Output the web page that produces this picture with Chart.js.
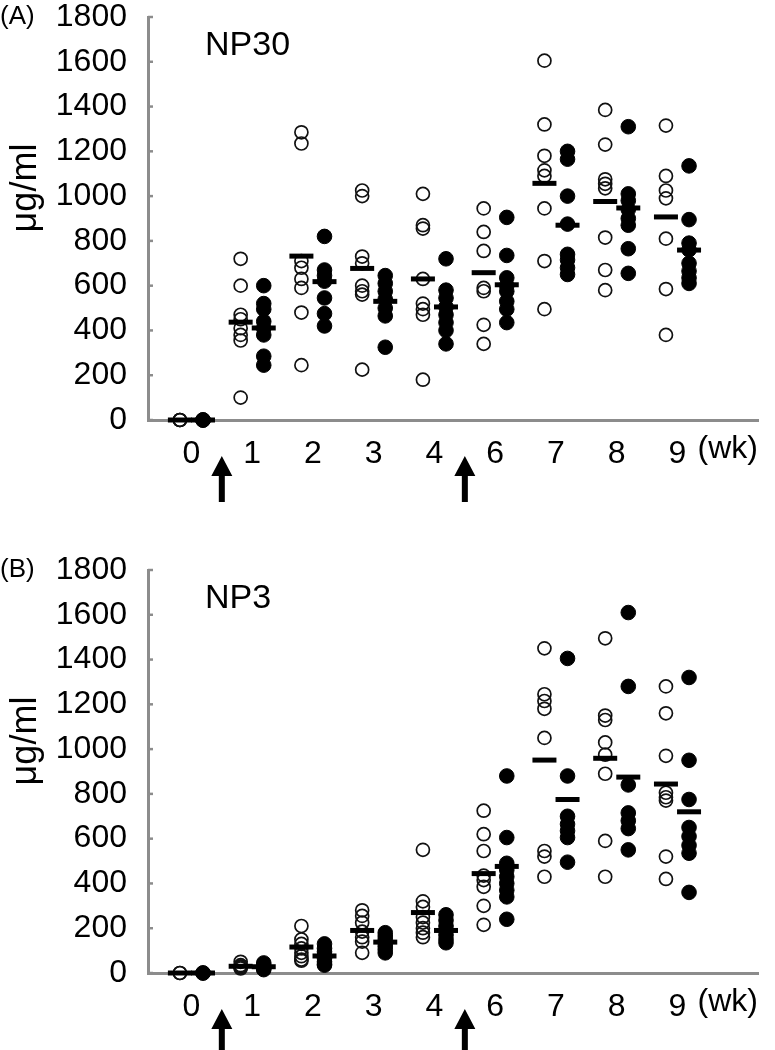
<!DOCTYPE html>
<html>
<head>
<meta charset="utf-8">
<title>NP30 / NP3 antibody titres</title>
<script src="https://cdn.jsdelivr.net/npm/chart.js"></script>
<style>
body { margin: 0; background: #fff; }
#wrap { position: relative; width: 775px; height: 1050px; overflow: hidden; }
canvas { position: absolute; left: 0; }
</style>
</head>
<body>
<div id="wrap">
  <canvas id="chartA" width="775" height="553" style="top:0"></canvas>
  <canvas id="chartB" width="775" height="497" style="top:553px"></canvas>
</div>
<script>
// x categories (weeks) and y tick labels
var weeks = ['0', '1', '2', '3', '4', '6', '7', '8', '9'];
var yTicks = [0, 200, 400, 600, 800, 1000, 1200, 1400, 1600, 1800];
// immunisation arrows sit between these category indexes
var arrowsAt = [0.5, 4.5];

// (A) NP30, values in ug/ml, one list per week
var np30Open = [
  [0, 0, 0],
  [720, 600, 470, 450, 410, 380, 355, 100],
  [1285, 1235, 710, 680, 630, 590, 480, 245],
  [1025, 1000, 730, 700, 600, 575, 560, 225],
  [1010, 870, 855, 630, 520, 495, 470, 180],
  [945, 840, 755, 590, 575, 425, 340],
  [1605, 1320, 1180, 1115, 1090, 945, 710, 495],
  [1385, 1230, 1075, 1055, 1035, 815, 670, 580],
  [1315, 1090, 1025, 990, 810, 585, 380]
];
var np30OpenMean = [0, 437, 732, 677, 630, 658, 1057, 976, 907];
var np30Filled = [
  [0, 0, 0],
  [600, 520, 495, 440, 410, 380, 285, 245],
  [820, 670, 645, 620, 545, 475, 420],
  [645, 610, 575, 540, 500, 465, 325],
  [720, 580, 545, 505, 470, 435, 400, 340],
  [905, 735, 635, 600, 575, 530, 495, 435],
  [1200, 1165, 1000, 875, 740, 715, 680, 650],
  [1310, 1010, 980, 940, 900, 870, 765, 655],
  [1135, 895, 790, 760, 700, 665, 635, 610]
];
var np30FilledMean = [0, 411, 618, 530, 505, 604, 870, 947, 759];

// (B) NP3
var np3Open = [
  [0, 0],
  [50, 35, 30, 25, 20],
  [210, 150, 130, 110, 90, 75, 60, 55],
  [280, 255, 225, 185, 160, 140, 90],
  [550, 320, 295, 250, 225, 200, 180, 160],
  [725, 620, 545, 435, 415, 385, 300, 215],
  [1450, 1245, 1215, 1180, 1050, 545, 520, 430],
  [1495, 1150, 1130, 1030, 975, 890, 590, 430],
  [1280, 1160, 970, 805, 785, 770, 520, 420]
];
var np3OpenMean = [0, 30, 116, 190, 270, 444, 951, 959, 844];
var np3Filled = [
  [0, 0],
  [45, 35, 25, 20, 15],
  [130, 110, 95, 80, 65, 50, 40, 35],
  [180, 165, 150, 135, 120, 105, 90],
  [260, 235, 210, 190, 170, 150, 135],
  [880, 605, 490, 460, 430, 400, 370, 340, 240],
  [1405, 880, 700, 665, 635, 605, 495],
  [1610, 1280, 840, 715, 680, 645, 550],
  [1320, 950, 775, 650, 610, 570, 535, 360]
];
var np3FilledMean = [0, 28, 76, 138, 190, 476, 775, 875, 720];

var FONT = "'Liberation Sans', Arial, sans-serif";
var GREY = '#8c8c8c';
var side = 0.19; // open column left of the week, filled column right of it

function pts(groups, dx) {
  var out = [];
  groups.forEach(function(vals, i) {
    vals.forEach(function(v) { out.push({x: i + dx, y: v}); });
  });
  return out;
}
function meanPts(means, dx) {
  return means.map(function(v, i) { return {x: i + dx, y: v}; });
}

var decor = {
  id: 'decor',
  afterDraw: function(chart) {
    var o = chart.options.plugins.decor;
    var ctx = chart.ctx, xs = chart.scales.x, ys = chart.scales.y, area = chart.chartArea;
    ctx.save();
    // small inward ticks on the y axis
    ctx.strokeStyle = GREY;
    ctx.lineWidth = 2.5;
    yTicks.forEach(function(t) {
      var py = ys.getPixelForValue(t);
      ctx.beginPath();
      ctx.moveTo(area.left, py);
      ctx.lineTo(area.left + 5, py);
      ctx.stroke();
    });
    ctx.fillStyle = '#000';
    ctx.textBaseline = 'middle';
    ctx.textAlign = 'left';
    ctx.font = '26px ' + FONT;
    ctx.fillText(o.letter, 0, 17);
    ctx.font = '34px ' + FONT;
    ctx.fillText(o.name, 205, 46);
    ctx.font = '32px ' + FONT;
    ctx.fillText('(wk)', xs.getPixelForValue(8) + 20, area.bottom + 29);
    // axis title
    ctx.save();
    ctx.translate(26, 188);
    ctx.rotate(-Math.PI / 2);
    ctx.textAlign = 'center';
    ctx.font = '36px ' + FONT;
    ctx.fillText('\u03bcg/ml', 0, 0);
    ctx.restore();
    // arrows under the x axis
    arrowsAt.forEach(function(a) {
      var px = xs.getPixelForValue(a);
      var top = area.bottom + 36, bot = area.bottom + 82;
      ctx.beginPath();
      ctx.moveTo(px, top);
      ctx.lineTo(px + 10.5, top + 20);
      ctx.lineTo(px + 3, top + 20);
      ctx.lineTo(px + 3, bot);
      ctx.lineTo(px - 3, bot);
      ctx.lineTo(px - 3, top + 20);
      ctx.lineTo(px - 10.5, top + 20);
      ctx.closePath();
      ctx.fill();
    });
    ctx.restore();
  }
};

function makeChart(id, h, letter, name, open, openMean, filled, filledMean) {
  return new Chart(document.getElementById(id), {
    type: 'scatter',
    data: {
      datasets: [
        { label: 'open mean', data: meanPts(openMean, -side), pointStyle: 'line', pointRadius: 12,
          pointBorderWidth: 5, pointBorderColor: '#000', order: 0, clip: false },
        { label: 'filled mean', data: meanPts(filledMean, side), pointStyle: 'line', pointRadius: 12,
          pointBorderWidth: 5, pointBorderColor: '#000', order: 0, clip: false },
        { label: 'open', data: pts(open, -side), pointStyle: 'circle', pointRadius: 6.5,
          pointBorderWidth: 1.7, pointBorderColor: '#111', pointBackgroundColor: 'rgba(255,255,255,0)', order: 1, clip: false },
        { label: 'filled', data: pts(filled, side), pointStyle: 'circle', pointRadius: 7.3,
          pointBorderWidth: 1, pointBorderColor: '#000', pointBackgroundColor: '#000', order: 1, clip: false }
      ]
    },
    options: {
      responsive: false,
      animation: false,
      events: [],
      layout: { padding: { left: 0, right: 2, top: 14, bottom: h - 420 - 60 } },
      plugins: {
        legend: { display: false },
        tooltip: { enabled: false },
        decor: { letter: letter, name: name }
      },
      scales: {
        x: {
          type: 'linear', min: -0.715, max: 9.325,
          grid: { display: false },
          border: { display: true, color: GREY, width: 3 },
          afterBuildTicks: function(s) { s.ticks = weeks.map(function(w, i) { return {value: i}; }); },
          ticks: { callback: function(v) { return weeks[v]; }, font: { size: 32, family: FONT }, color: '#000',
                   padding: 7, maxRotation: 0, autoSkip: false },
          afterFit: function(s) { s.height = 60; s.paddingLeft = 0; s.paddingRight = 0; }
        },
        y: {
          min: 0, max: 1800,
          grid: { display: false },
          border: { display: true, color: GREY, width: 3 },
          afterBuildTicks: function(s) { s.ticks = yTicks.map(function(v) { return {value: v}; }); },
          ticks: { callback: function(v) { return String(v); }, font: { size: 32, family: FONT }, color: '#000', padding: 13 },
          afterFit: function(s) { s.width = 148; s.paddingTop = 0; s.paddingBottom = 0; }
        }
      }
    },
    plugins: [decor]
  });
}

makeChart('chartA', 553, '(A)', 'NP30', np30Open, np30OpenMean, np30Filled, np30FilledMean);
makeChart('chartB', 497, '(B)', 'NP3', np3Open, np3OpenMean, np3Filled, np3FilledMean);
</script>
</body>
</html>
